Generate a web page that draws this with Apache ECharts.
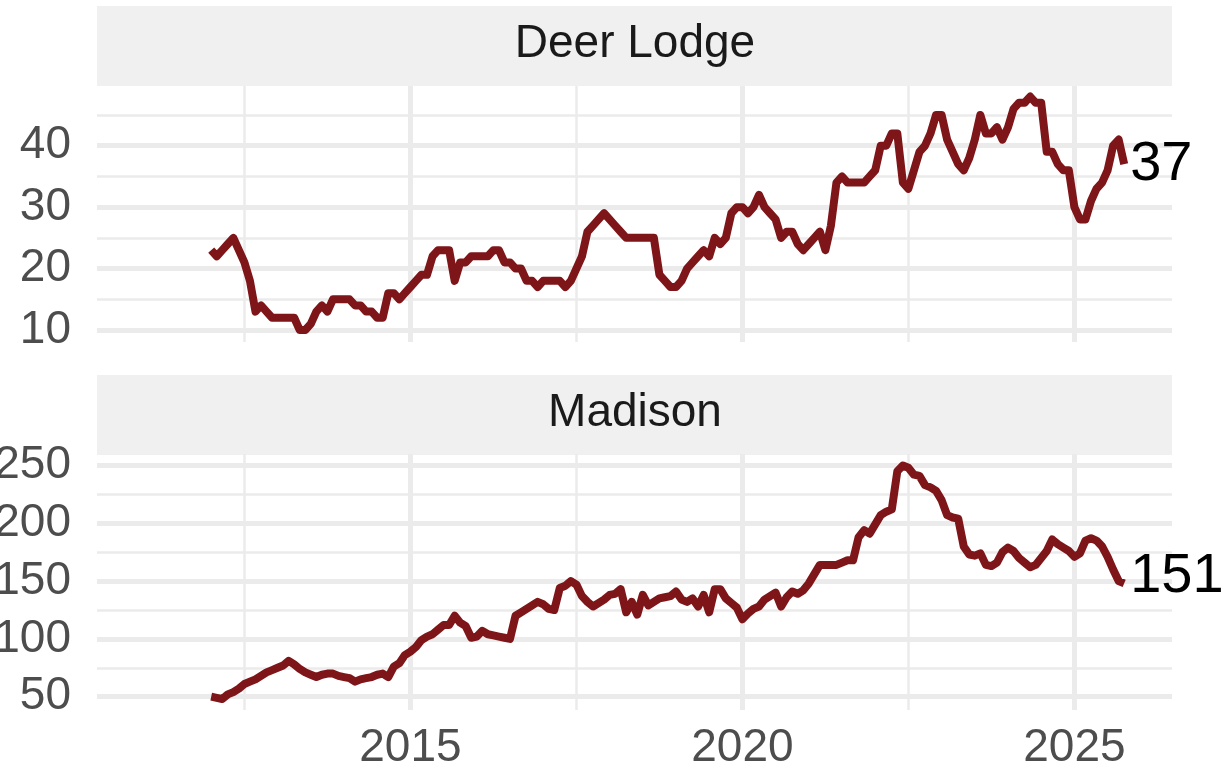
<!DOCTYPE html>
<html>
<head>
<meta charset="utf-8">
<script src="https://cdn.jsdelivr.net/npm/echarts@6.0.0/dist/echarts.min.js"></script>
<style>
  html, body { margin: 0; padding: 0; background: #fff; }
  #chart { width: 1229px; height: 772px; }
</style>
</head>
<body>
<div id="chart"></div>
<script>
// monthly values, first point is Jan 2012
const startYear = 2012
const panels = ['Deer Lodge', 'Madison']
const deerLodge = [
  23, 22, 23, 24, 25, 23, 21, 18, 13, 14,
  13, 12, 12, 12, 12, 12, 10, 10, 11, 13,
  14, 13, 15, 15, 15, 15, 14, 14, 13, 13,
  12, 12, 16, 16, 15, 16, 17, 18, 19, 19,
  22, 23, 23, 23, 18, 21, 21, 22, 22, 22,
  22, 23, 23, 21, 21, 20, 20, 18, 18, 17,
  18, 18, 18, 18, 17, 18, 20, 22, 26, 27,
  28, 29, 28, 27, 26, 25, 25, 25, 25, 25,
  25, 19, 18, 17, 17, 18, 20, 21, 22, 23,
  22, 25, 24, 25, 29, 30, 30, 29, 30, 32,
  30, 29, 28, 25, 26, 26, 24, 23, 24, 25,
  26, 23, 27, 34, 35, 34, 34, 34, 34, 35,
  36, 40, 40, 42, 42, 34, 33, 36, 39, 40,
  42, 45, 45, 41, 39, 37, 36, 38, 41, 45,
  42, 42, 43, 41, 43, 46, 47, 47, 48, 47,
  47, 39, 39, 37, 36, 36, 30, 28, 28, 31,
  33, 34, 36, 40, 41, 37
]
const madison = [
  50, 49, 48, 52, 54, 57, 61, 63, 65, 68,
  71, 73, 75, 77, 81, 78, 74, 71, 69, 67,
  69, 70, 70, 68, 67, 66, 63, 65, 66, 67,
  69, 70, 67, 76, 79, 86, 89, 93, 99, 102,
  104, 108, 112, 112, 120, 114, 111, 101, 102, 107,
  104, 103, 102, 101, 100, 120, 123, 126, 129, 132,
  130, 126, 125, 144, 146, 150, 147, 137, 132, 128,
  131, 134, 138, 139, 143, 123, 132, 121, 138, 129,
  132, 135, 136, 137, 141, 134, 132, 135, 128, 138,
  123, 143, 143, 135, 131, 127, 117, 122, 126, 128,
  134, 137, 140, 128, 136, 141, 139, 142, 148, 156,
  164, 164, 164, 164, 166, 168, 168, 188, 194, 191,
  199, 207, 210, 212, 245, 250, 248, 242, 241, 233,
  231, 228, 220, 207, 205, 204, 180, 173, 172, 174,
  164, 163, 166, 175, 179, 176, 170, 166, 162, 164,
  170, 176, 186, 182, 179, 176, 171, 174, 185, 187,
  185, 180, 171, 160, 150, 148
]
const endLabels = ['37', '151']
const yearTicks = [2015, 2020, 2025]
const yearMinor = [2012.5, 2017.5, 2022.5]
const deerTicks = [10, 20, 30, 40]
const deerMinor = [15, 25, 35, 45]
const madisonTicks = [50, 100, 150, 200, 250]
const madisonMinor = [75, 125, 175, 225]

const FONT = '"Liberation Sans", Arial, sans-serif'
const GRID = '#EBEBEB'
const LINE = '#7E1518'

const toPairs = vals => vals.map((v, i) => [startYear + i / 12, v])

function xAxis(gridIndex, ticks, width, withLabels) {
  return {
    type: 'value', gridIndex, min: 2010.28, max: 2026.47,
    axisLine: { show: false },
    axisTick: { show: false, customValues: ticks },
    axisLabel: withLabels
      ? { show: true, customValues: ticks, formatter: v => String(v), fontSize: 46, fontFamily: FONT, color: '#4D4D4D', margin: 15 }
      : { show: false },
    splitLine: { show: true, lineStyle: { color: GRID, width } },
  }
}

function yAxis(gridIndex, range, ticks, width, withLabels) {
  return {
    type: 'value', gridIndex, min: range[0], max: range[1],
    axisLine: { show: false },
    axisTick: { show: false, customValues: ticks },
    axisLabel: withLabels
      ? { show: true, customValues: ticks, formatter: v => String(v), fontSize: 46, fontFamily: FONT, color: '#4D4D4D', margin: 26 }
      : { show: false },
    splitLine: { show: true, lineStyle: { color: GRID, width } },
  }
}

function lineSeries(idx, axisIndex, vals) {
  return {
    type: 'line', xAxisIndex: axisIndex, yAxisIndex: axisIndex,
    data: toPairs(vals), showSymbol: false, z: 5,
    lineStyle: { color: LINE, width: 8, cap: 'butt', join: 'round' },
    endLabel: {
      show: true, formatter: () => endLabels[idx], distance: 6,
      fontSize: 56, fontFamily: FONT, color: '#000',
      offset: idx === 1 ? [0, -7] : [0, 0],
    },
  }
}

function strip(top, text) {
  return [
    { type: 'rect', shape: { x: 97, y: top, width: 1075, height: 80 }, style: { fill: '#F0F0F0' } },
    { type: 'text', x: 635, y: top + 38, style: { text, align: 'center', verticalAlign: 'middle', font: '46px ' + FONT, fill: '#1A1A1A' } },
  ]
}

const chart = echarts.init(document.getElementById('chart'))
chart.setOption({
  animation: false,
  backgroundColor: '#fff',
  grid: [
    { left: 97, right: 57, top: 86, height: 256, outerBoundsMode: 'none', containLabel: false },
    { left: 97, right: 57, top: 454, height: 256, outerBoundsMode: 'none', containLabel: false },
  ],
  xAxis: [
    xAxis(0, yearTicks, 5, false),
    xAxis(0, yearMinor, 2.5, false),
    xAxis(1, yearTicks, 5, true),
    xAxis(1, yearMinor, 2.5, false),
  ],
  yAxis: [
    yAxis(0, [8.05, 49.72], deerTicks, 5, true),
    yAxis(0, [8.05, 49.72], deerMinor, 2.5, false),
    yAxis(1, [38.5, 259.9], madisonTicks, 5, true),
    yAxis(1, [38.5, 259.9], madisonMinor, 2.5, false),
  ],
  graphic: [...strip(6, panels[0]), ...strip(375, panels[1])],
  series: [
    lineSeries(0, 0, deerLodge),
    lineSeries(1, 2, madison),
  ],
})
</script>
</body>
</html>
